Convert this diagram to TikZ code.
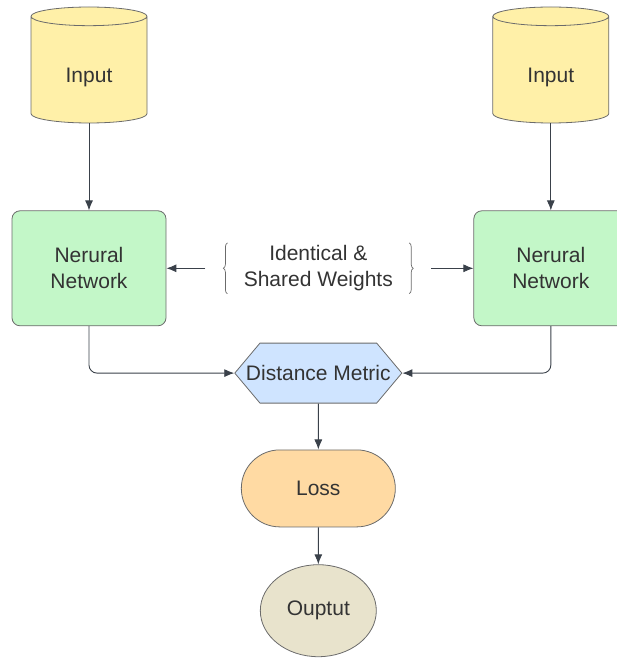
\documentclass[tikz,border=0pt]{standalone}
\usepackage{fontspec}
\setmainfont{Liberation Sans}
\usetikzlibrary{arrows.meta,positioning,shapes.geometric,shapes.misc,shapes.symbols,decorations.pathreplacing}
\tikzset{>={Latex[length=10pt,width=8pt]}}
\definecolor{linegray}{HTML}{3A414A}
\definecolor{bordergray}{HTML}{6B6B6B}
\definecolor{inputyellow}{HTML}{FFF0A8}
\definecolor{netgreen}{HTML}{C3F7C8}
\definecolor{metricblue}{HTML}{CFE4FF}
\definecolor{lossorange}{HTML}{FFDAA3}
\definecolor{outbeige}{HTML}{E8E3CC}
\definecolor{textgray}{HTML}{333333}

\begin{document}
\begin{tikzpicture}
	[x=1pt, y=1pt, inner sep=0pt, align=center, line width=0.8pt,
	font=\fontsize{21}{26}\selectfont, text=textgray,
	database/.style={cylinder, shape border rotate=90, aspect=0.4, draw=bordergray, fill=inputyellow, minimum width=116pt, minimum height=116pt, text height=30pt, text depth=5pt},
	netbox/.style={rectangle, rounded corners=8pt, draw=bordergray, fill=netgreen, minimum width=154pt, minimum height=115pt},
	metricbox/.style={signal, signal to=west and east, signal pointer angle=100, draw=bordergray, fill=metricblue, inner xsep=-14pt, minimum height=60pt},
	lossbox/.style={rounded rectangle, draw=bordergray, fill=lossorange, minimum width=154pt, minimum height=77pt},
	resultbox/.style={ellipse, draw=bordergray, fill=outbeige, minimum width=116pt, minimum height=92pt},
	shared/.style={draw=none, inner xsep=38pt, minimum height=50pt},
	sharedbrace/.style={decorate, decoration={brace, amplitude=4pt}, draw=bordergray, line width=0.7pt},
	link/.style={->, draw=linegray, line width=0.9pt}]
	
	\useasboundingbox (0,0) rectangle (617,-660);
	
	\node[database, anchor=shape center] (input_left) at (89,-65) {Input};
	\node[database]  (input_right)   [right=345pt of input_left]  {Input};
	\node[netbox]    (network_left)  [below=87pt of input_left]   {Nerural\\Network};
	\node[netbox]    (network_right) [below=87pt of input_right]  {Nerural\\Network};
	\node[shared]    (weights)       [right=39pt of network_left] {Identical \&\\Shared Weights};
	\node[metricbox] (distance)      [below=49pt of weights]      {Distance Metric};
	\node[lossbox]   (loss)          [below=46pt of distance]     {Loss};
	\node[resultbox] (output)        [below=37pt of loss]         {Ouptut};
	
	\draw [sharedbrace] ([xshift=22pt]weights.south west)  -- ([xshift=22pt]weights.north west);
	\draw [sharedbrace] ([xshift=-22pt]weights.north east) -- ([xshift=-22pt]weights.south east);
	
	\draw [link] (input_left)    to (network_left);
	\draw [link] (input_right)   to (network_right);
	\draw [link] (weights)       to (network_left);
	\draw [link] (weights)       to (network_right);
	\draw [link, rounded corners=8pt] (network_left)  |- (distance);
	\draw [link, rounded corners=8pt] (network_right) |- (distance);
	\draw [link] (distance)      to (loss);
	\draw [link] (loss)          to (output);
\end{tikzpicture}
\end{document}
